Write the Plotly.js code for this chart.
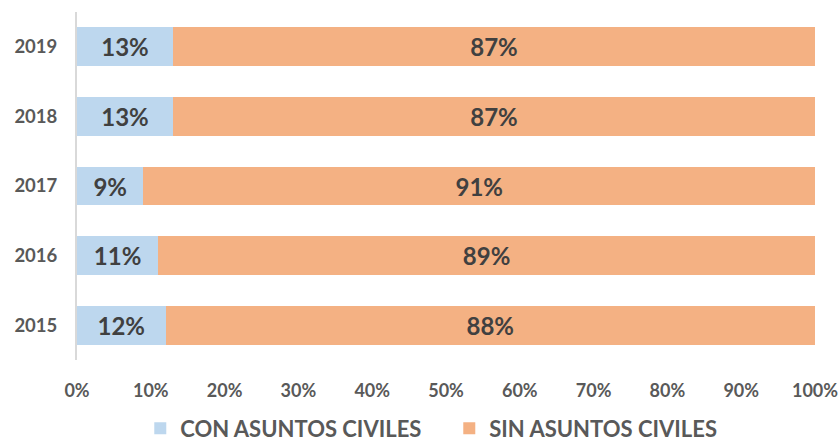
<!DOCTYPE html>
<html>
<head>
<meta charset="utf-8">
<script src="https://cdn.plot.ly/plotly-3.0.1.min.js"></script>
<style>html,body{margin:0;padding:0;background:#fff;}#chart{width:840px;height:445px;}</style>
</head>
<body>
<div id="chart"></div>
<script>
var years = ["2015", "2016", "2017", "2018", "2019"];
var conAsuntos = [12, 11, 9, 13, 13];
var sinAsuntos = [88, 89, 91, 87, 87];
var xTickVals = [0, 10, 20, 30, 40, 50, 60, 70, 80, 90, 100];
var xTickText = ["0%", "10%", "20%", "30%", "40%", "50%", "60%", "70%", "80%", "90%", "100%"];

var FONT = "Lato, 'Open Sans', sans-serif";

function pct(arr){ return arr.map(function(v){ return v + "%"; }); }

var traces = [
  {
    type: "bar", orientation: "h", name: "CON ASUNTOS CIVILES",
    y: years, x: conAsuntos, text: pct(conAsuntos),
    textposition: "inside", insidetextanchor: "middle", constraintext: "none",
    textfont: {family: FONT, size: 24, color: "#404040", weight: "bold"},
    marker: {color: "#BDD7EE"}, hoverinfo: "skip"
  },
  {
    type: "bar", orientation: "h", name: "SIN ASUNTOS CIVILES",
    y: years, x: sinAsuntos, text: pct(sinAsuntos),
    textposition: "inside", insidetextanchor: "middle", constraintext: "none",
    textfont: {family: FONT, size: 24, color: "#404040", weight: "bold"},
    marker: {color: "#F4B183"}, hoverinfo: "skip"
  }
];

var layout = {
  width: 840, height: 445,
  margin: {l: 77, r: 25, t: 12, b: 85, autoexpand: false},
  barmode: "stack",
  bargap: 0.44,
  paper_bgcolor: "#fff", plot_bgcolor: "#fff",
  font: {family: FONT, color: "#595959"},
  showlegend: true,
  legend: {
    orientation: "h", xref: "container", yref: "container",
    x: 0.167, xanchor: "left", y: 0.037, yanchor: "middle",
    font: {family: FONT, size: 22, color: "#595959", weight: "bold"},
    traceorder: "normal", itemwidth: 30,
    entrywidth: 264, entrywidthmode: "pixels"
  },
  xaxis: {
    range: [0, 100], tickvals: xTickVals, ticktext: xTickText,
    showgrid: false, zeroline: false, showline: false, ticks: "",
    ticklabelstandoff: 18,
    tickfont: {family: FONT, size: 18, color: "#595959", weight: "bold"},
    fixedrange: true, automargin: false
  },
  yaxis: {
    type: "category", categoryorder: "array", categoryarray: years,
    showgrid: false, zeroline: false, showline: true, linecolor: "#D9D9D9", linewidth: 2,
    ticks: "", ticklabelstandoff: 14,
    tickfont: {family: FONT, size: 18.5, color: "#595959", weight: "bold"},
    fixedrange: true, automargin: false
  }
};

Plotly.newPlot("chart", traces, layout, {displayModeBar: false, staticPlot: true});
</script>
</body>
</html>
